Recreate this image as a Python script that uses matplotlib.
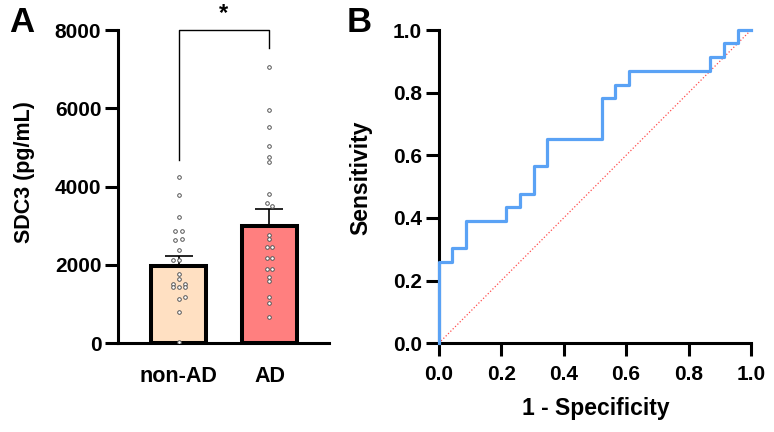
import matplotlib
matplotlib.use('Agg')
import matplotlib.pyplot as plt

plt.rcParams['font.family'] = ['Liberation Sans', 'DejaVu Sans']
plt.rcParams['font.weight'] = 'bold'

# panel A data
groups = ['non-AD', 'AD']
means = [1970, 3000]
sems = [267, 421]
nonad_vals = [4240, 3790, 3220, 2860, 2865, 2640, 2670, 2380, 2120, 2130,
              1770, 1635, 1505, 1505, 1440, 1440, 1440, 1190, 1120, 810, 40]
ad_vals = [7050, 5960, 5515, 5040, 4765, 4635, 3810, 3575, 3505, 2760, 2655,
           2465, 2465, 2185, 2185, 1890, 1890, 1700, 1590, 1190, 1020, 665]

# panel B data (ROC step vertices)
fpr = [0, 0, 0.043, 0.043, 0.087, 0.087, 0.217, 0.217, 0.261, 0.261, 0.304,
       0.304, 0.348, 0.348, 0.522, 0.522, 0.565, 0.565, 0.609, 0.609, 0.870,
       0.870, 0.913, 0.913, 0.957, 0.957, 1.0]
tpr = [0, 0.261, 0.261, 0.304, 0.304, 0.391, 0.391, 0.435, 0.435, 0.478,
       0.478, 0.565, 0.565, 0.652, 0.652, 0.783, 0.783, 0.826, 0.826, 0.870,
       0.870, 0.913, 0.913, 0.957, 0.957, 1.0, 1.0]

# horizontal scatter offsets for the dots
nonad_jit = [0, 0, 0, -0.037, 0.037, -0.037, 0.037, 0, -0.065, 0,
             0, 0, -0.066, 0.066, -0.066, 0, 0.066, 0.066, 0, 0, 0]
ad_jit = [0, 0, 0, 0, 0, 0, 0, -0.03, 0.03, 0, 0,
          -0.03, 0.03, -0.03, 0.03, -0.03, 0.03, 0, 0, 0, 0, 0]

fig = plt.figure(figsize=(7.74, 4.32), dpi=100)
axA = fig.add_axes([118/774, 88.7/432, 211/774, 313.3/432])
axB = fig.add_axes([438.7/774, 88.7/432, 312.3/774, 313.3/432])

# ---- panel A ----
xs = [0, 1]
axA.bar(xs, means, width=0.606, color=['#ffe0c2', '#ff7f7f'],
        edgecolor='black', linewidth=2.9, zorder=2)
axA.errorbar(xs, means, yerr=[[0, 0], sems], fmt='none', ecolor='black',
             elinewidth=1.2, capsize=10.4, capthick=1.2, zorder=3)
axA.plot([0 + j for j in nonad_jit], nonad_vals, 'o', ms=2.6, mfc='white',
         mec='#555555', mew=0.7, zorder=4)
axA.plot([1 + j for j in ad_jit], ad_vals, 'o', ms=2.6, mfc='white',
         mec='#555555', mew=0.7, zorder=4)
# significance bracket
axA.plot([0, 0, 1, 1], [4680, 8000, 8000, 7540], color='black', lw=1.0,
         clip_on=False, zorder=3)
axA.text(0.49, 8120, '*', ha='center', va='bottom', fontsize=17,
         fontweight='bold')

axA.set_xlim(-0.67, 1.656)
axA.set_ylim(0, 8000)
axA.set_yticks([0, 2000, 4000, 6000, 8000])
axA.set_xticks(xs)
axA.set_xticklabels(groups)
axA.tick_params(axis='x', length=0, pad=16, labelsize=15.5)
axA.tick_params(axis='y', length=9.5, width=2.2, pad=2.5, labelsize=15)
axA.set_ylabel('SDC3 (pg/mL)', fontsize=15.5, fontweight='bold')
axA.yaxis.set_label_coords(-0.393, 0.548)
for s in ['top', 'right']:
    axA.spines[s].set_visible(False)
for s in ['left', 'bottom']:
    axA.spines[s].set_linewidth(2.2)

# ---- panel B ----
axB.plot([0, 1], [0, 1], color='#ff4d4d', lw=0.9, ls=':', zorder=2)
axB.plot(fpr, tpr, color='#5aa2f5', lw=2.3, clip_on=False, zorder=5)
axB.set_xlim(0, 1)
axB.set_ylim(0, 1)
ticks = [0.0, 0.2, 0.4, 0.6, 0.8, 1.0]
axB.set_xticks(ticks)
axB.set_yticks(ticks)
axB.set_xticklabels(['%.1f' % t for t in ticks])
axB.set_yticklabels(['%.1f' % t for t in ticks])
axB.tick_params(axis='x', length=9.5, width=2.2, pad=6, labelsize=15)
axB.tick_params(axis='y', length=9.5, width=2.2, pad=2.5, labelsize=15)
axB.set_xlabel('1 - Specificity', fontsize=16.5, fontweight='bold')
axB.set_ylabel('Sensitivity', fontsize=16.5, fontweight='bold')
axB.xaxis.set_label_coords(0.502, -0.172)
axB.yaxis.set_label_coords(-0.214, 0.529)
for s in ['top', 'right']:
    axB.spines[s].set_visible(False)
for s in ['left', 'bottom']:
    axB.spines[s].set_linewidth(2.2)

fig.text(9/774, 1 - 32/432, 'A', fontsize=25, fontweight='bold', va='baseline')
fig.text(347/774, 1 - 32/432, 'B', fontsize=25, fontweight='bold', va='baseline')

fig.savefig('out.png', dpi=100)
